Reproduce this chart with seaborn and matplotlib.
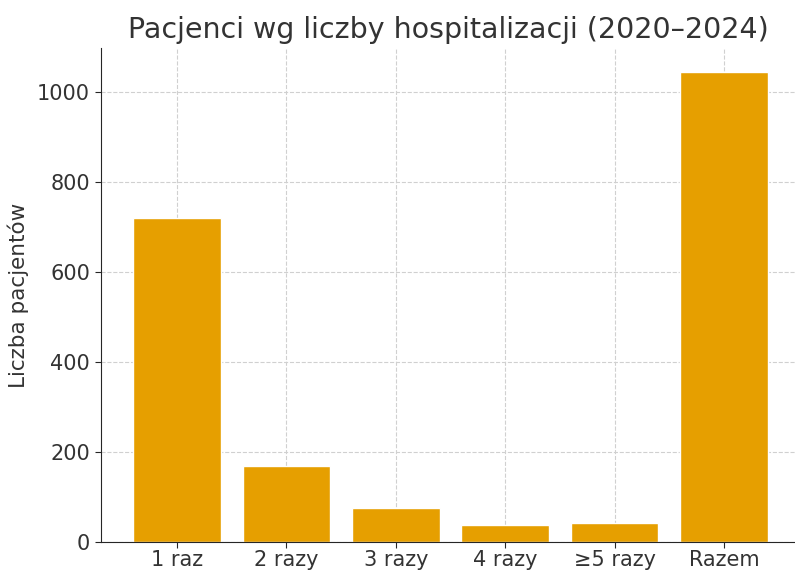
import matplotlib
matplotlib.use("Agg")
import matplotlib.pyplot as plt
import seaborn as sns
import pandas as pd

# Dane z wykresu
kategorie = ["1 raz", "2 razy", "3 razy", "4 razy", "≥5 razy", "Razem"]
pacjenci = [720, 168, 75, 38, 42, 1043]

df = pd.DataFrame({"Kategoria": kategorie, "Pacjenci": pacjenci})

sns.set_style("ticks")
plt.rcParams["font.family"] = ["DejaVu Sans"]
text_color = "#333333"

fig = plt.figure(figsize=(7.95, 5.7), dpi=100)
ax = fig.add_axes([101 / 795, 28 / 570, 694 / 795, 494 / 570])

sns.barplot(data=df, x="Kategoria", y="Pacjenci", color="#E69F00",
            saturation=1, width=0.8, ax=ax)

ax.set_xlim(-0.695, 5.65)
ax.set_ylim(0, 1097)
ax.set_yticks([0, 200, 400, 600, 800, 1000])
ax.grid(True, linestyle="--", color="#d0d0d0", linewidth=0.8)
ax.set_axisbelow(True)
sns.despine(ax=ax)

ax.set_title("Pacjenci wg liczby hospitalizacji (2020–2024)", fontsize=20.5,
             color=text_color, pad=7)
ax.set_xlabel("")
ax.set_ylabel("Liczba pacjentów", fontsize=15.5, color=text_color, labelpad=6)
ax.tick_params(axis="both", labelsize=15, labelcolor=text_color, length=4.5)
ax.tick_params(axis="x", pad=1.5)

fig.savefig("out.png", dpi=100)
